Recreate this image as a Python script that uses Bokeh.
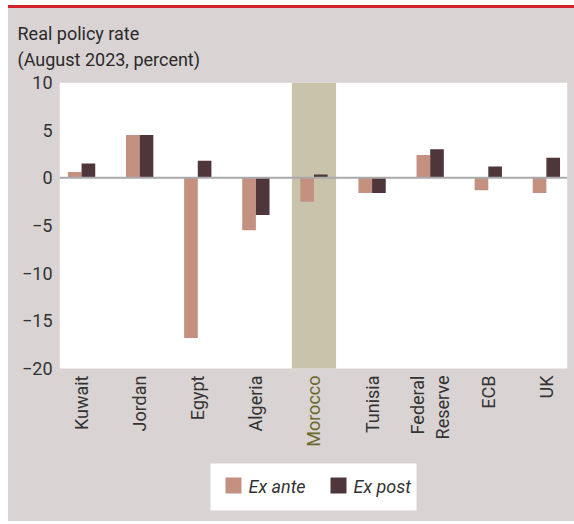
from bokeh.plotting import figure
from bokeh.models import Range1d, FixedTicker, ColumnDataSource
from bokeh.embed import file_html
from bokeh.resources import INLINE
import math

# ---- data ----
categories = ["Kuwait", "Jordan", "Egypt", "Algeria", "Morocco", "Tunisia",
              "Federal\nReserve", "ECB", "UK"]
ex_ante = [0.6, 4.5, -16.8, -5.5, -2.5, -1.6, 2.4, -1.3, -1.6]
ex_post = [1.5, 4.5, 1.8, -3.9, 0.35, -1.6, 3.0, 1.2, 2.1]
series_names = ["Ex ante", "Ex post"]
highlight = "Morocco"
y_ticks = [-20, -15, -10, -5, 0, 5, 10]
title = "Real policy rate"
subtitle = "(August 2023, percent)"

# ---- style ----
FONT = "Roboto"
BG = "#d9d3d3"
C_ANTE = "#c49080"
C_POST = "#4f363a"
C_BAND = "#c8c3aa"
C_HL = "#6b6a2b"
TXT = "#333333"

W, H = 566, 516
PAGE_X, PAGE_Y = 8, 8           # where the canvas sits on the page
ML, MR, MT, MB = 51, 7, 74, 0
xpx = 58.1                      # pixels per category step
X0 = -0.38
X1 = X0 + (W - ML - MR) / xpx
YTOP, YBOT = 10, -20            # visible value axis
ypx = 286 / (YTOP - YBOT)       # pixels per unit
frame_h = H - MT - MB
Y0 = YTOP - frame_h / ypx       # frame extends below the value axis for labels/legend
FL, FT = PAGE_X + ML, PAGE_Y + MT   # frame left/top on the page

def px_x(page_x):
    return X0 + (page_x - FL) / xpx

def px_y(page_y):
    return YTOP - (page_y - FT) / ypx

idx = list(range(len(categories)))
bw = 0.235
src = ColumnDataSource(dict(
    x_ante=[i - bw / 2 for i in idx],
    x_post=[i + bw / 2 for i in idx],
    ante=ex_ante, post=ex_post))

p = figure(width=W, height=H, output_backend="svg", toolbar_location=None,
           x_range=Range1d(X0, X1), y_range=Range1d(Y0, YTOP),
           min_border_left=ML, min_border_right=MR,
           min_border_top=MT, min_border_bottom=MB,
           title=title + "\n" + subtitle)
p.styles = {"border-top": "3px solid #d2232a", "margin-left": "8px", "margin-top": "5px",
            "background-color": BG}
p.background_fill_color = BG
p.border_fill_color = BG
p.outline_line_color = None
p.outline_line_width = 0
p.grid.visible = False
p.xaxis.visible = False

# two-line title: heading + subtitle
p.title.text_font = FONT
p.title.text_font_size = "18px"
p.title.text_font_style = "normal"
p.title.text_color = "#2a2a2a"
p.title.text_line_height = 1.28
p.title.align = "left"
p.title.offset = -42
p.title.standoff = 24

# white plotting area
p.quad(left=[X0], right=[X1], bottom=[YBOT], top=[YTOP], fill_color="white", line_color=None)

# highlight band
hi = categories.index(highlight)
p.vbar(x=[hi], width=0.76, top=[YTOP], bottom=[YBOT], fill_color=C_BAND, line_color=None)

p.vbar(x="x_ante", width=bw, top="ante", bottom=0, source=src,
       fill_color=C_ANTE, line_color=None)
p.vbar(x="x_post", width=bw, top="post", bottom=0, source=src,
       fill_color=C_POST, line_color=None)

p.segment(x0=[X0], x1=[X1], y0=[0], y1=[0], line_color="#aaaaaa", line_width=2)

# category labels
lab_src = ColumnDataSource(dict(
    x=idx, y=[YBOT - 7 / ypx] * len(idx), text=categories,
    color=[C_HL if c == highlight else TXT for c in categories]))
p.text(x="x", y="y", text="text", source=lab_src, angle=math.pi / 2,
       text_align="right", text_baseline="middle", text_color="color",
       text_font={"value": FONT}, text_font_size="18px", text_line_height=1.17)

# y axis
ax = p.yaxis[0]
ax.axis_line_color = None
ax.major_tick_line_color = None
ax.minor_tick_line_color = None
ax.major_tick_in = 0
ax.major_tick_out = 0
ax.major_label_text_font = FONT
ax.major_label_text_font_size = "18px"
ax.major_label_text_color = TXT
ax.major_label_standoff = 7
ax.ticker = FixedTicker(ticks=y_ticks)
ax.major_label_overrides = {t: str(t).replace("-", "\u2212") for t in y_ticks}

# legend box (white panel with two swatches and italic labels)
p.quad(left=[px_x(210)], right=[px_x(416)], bottom=[px_y(510)], top=[px_y(463)],
       fill_color="white", line_color=None)
sw_left = [px_x(225), px_x(330)]
leg_src = ColumnDataSource(dict(
    left=sw_left, right=[v + 16 / xpx for v in sw_left],
    bottom=[px_y(493)] * 2, top=[px_y(477)] * 2,
    tx=[v + 23 / xpx for v in sw_left], ty=[px_y(486)] * 2,
    label=series_names, color=[C_ANTE, C_POST]))
p.quad(left="left", right="right", bottom="bottom", top="top", source=leg_src,
       fill_color="color", line_color=None)
p.text(x="tx", y="ty", text="label", source=leg_src, text_align="left",
       text_baseline="middle", text_font={"value": FONT}, text_font_size="18px",
       text_font_style="italic", text_color=TXT)

open("out.html", "w").write(file_html(p, INLINE))
